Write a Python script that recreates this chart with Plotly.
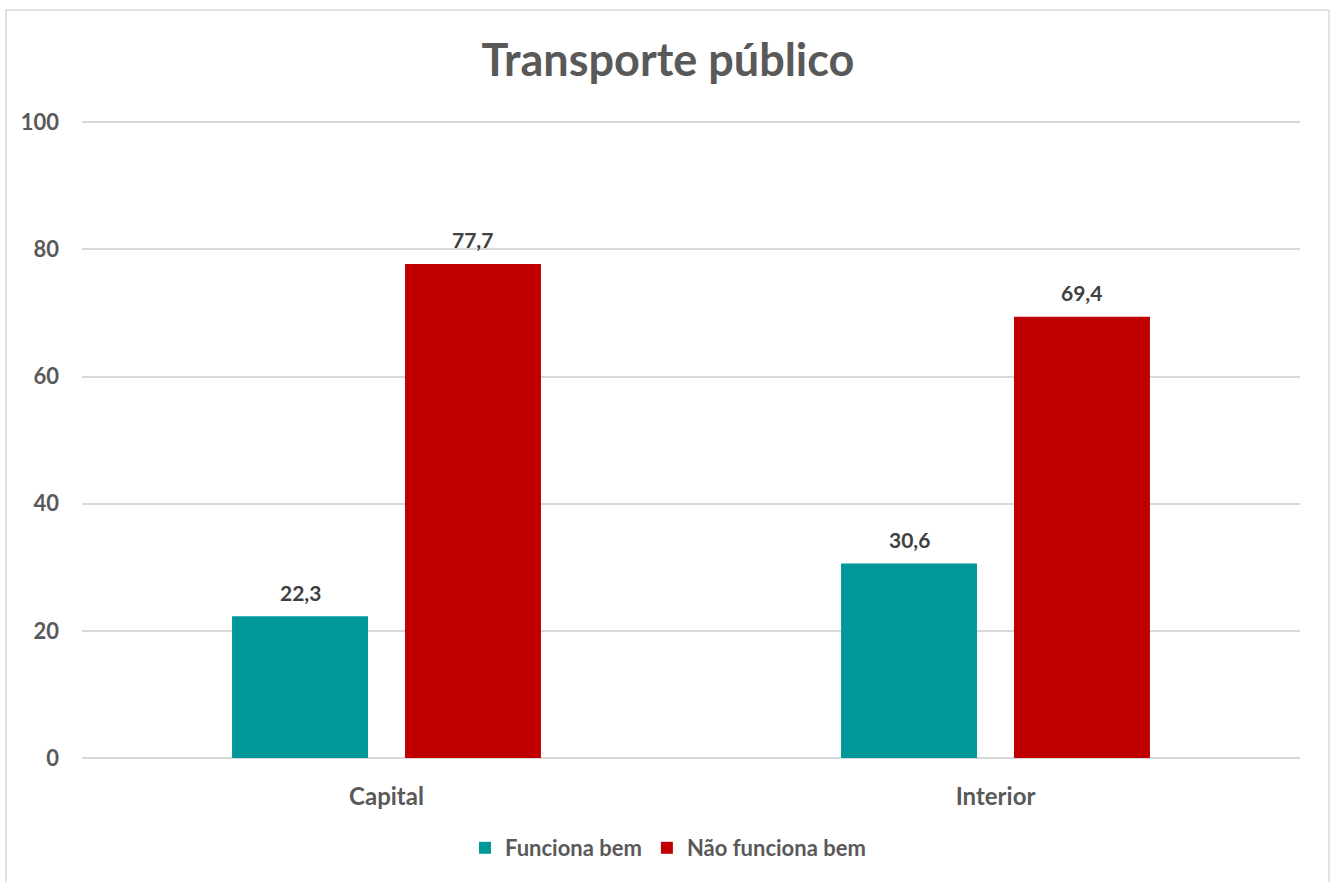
import plotly.graph_objects as go

categories = ["Capital", "Interior"]
series_names = ["Funciona bem", "Não funciona bem"]
funciona_bem = [22.3, 30.6]
nao_funciona_bem = [77.7, 69.4]
colors = ["#009999", "#C00000"]
y_ticks = [0, 20, 40, 60, 80, 100]

W, H = 1335, 882
L, R, T, B = 82, 35, 119, 124
plot_w = W - L - R
plot_h = H - T - B

FONT = "Lato"
GRAY = "#595959"

fig = go.Figure()
all_vals = [funciona_bem, nao_funciona_bem]
for name, vals, col in zip(series_names, all_vals, colors):
    fig.add_trace(go.Bar(
        x=categories, y=vals, name=name,
        marker=dict(color=col, line=dict(width=0)),
    ))

bargap = 0.432
bargroupgap = 0.214
cat_w = plot_w / len(categories)
slot = cat_w * (1 - bargap) / 2
annotations = []
for i, vals in enumerate(all_vals):
    shift = (i - 0.5) * slot
    for c, v in zip(categories, vals):
        annotations.append(dict(
            x=c, y=v, xref="x", yref="y", text=f"{v:.1f}".replace(".", ","),
            showarrow=False, xshift=shift, yshift=24, yanchor="middle",
            font=dict(family=FONT, size=21, color="#404040", weight="bold"),
        ))

fig.update_layout(
    width=W, height=H,
    margin=dict(l=L, r=R, t=T, b=B),
    paper_bgcolor="white", plot_bgcolor="white",
    font=dict(family=FONT, color=GRAY, weight="bold"),
    title=dict(text="Transporte público", x=668 / W, xref="container", xanchor="center",
               y=1 - 60 / H, yref="container", yanchor="middle",
               font=dict(family=FONT, size=45, color=GRAY, weight="bold")),
    barmode="group", bargap=bargap, bargroupgap=bargroupgap,
    showlegend=True,
    legend=dict(orientation="h", x=(668 - L) / plot_w, xanchor="center",
                y=-(848 - (H - B)) / plot_h, yanchor="middle",
                font=dict(family=FONT, size=22, color=GRAY, weight="bold"),
                itemsizing="constant", traceorder="normal"),
    annotations=annotations,
    xaxis=dict(showgrid=False, showline=False, zeroline=False,
               tickfont=dict(family=FONT, size=24, color=GRAY, weight="bold"),
               ticklabelstandoff=22),
    yaxis=dict(range=[0, 100.5], tickvals=y_ticks, showgrid=True, gridcolor="#D9D9D9",
               gridwidth=1.5, zeroline=True, zerolinecolor="#D9D9D9", zerolinewidth=1.5,
               showline=False,
               tickfont=dict(family=FONT, size=22, color=GRAY, weight="bold"),
               ticklabelstandoff=22),
    shapes=[dict(type="rect", xref="paper", yref="paper",
                 x0=(6 - L) / plot_w, x1=(1329 - L) / plot_w,
                 y0=-(890 - (H - B)) / plot_h, y1=((H - B) - 10) / plot_h,
                 line=dict(color="#D9D9D9", width=1.5), fillcolor="rgba(0,0,0,0)",
                 layer="below")],
)

fig.write_html("out.html", config={"displayModeBar": False},
               post_script="document.body.style.margin='0';document.body.style.overflow='hidden';")
